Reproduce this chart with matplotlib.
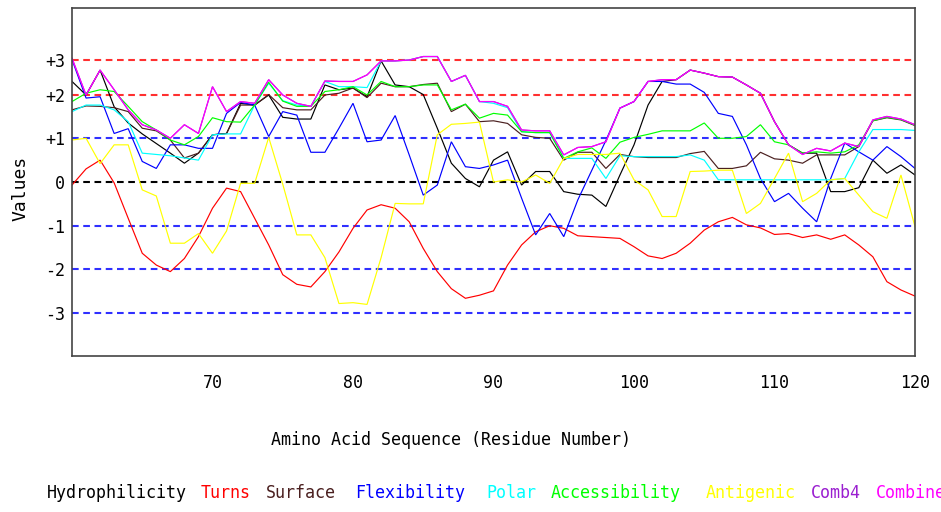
import matplotlib
matplotlib.use("Agg")
import matplotlib.pyplot as plt
import numpy as np

residues = list(range(60, 121))

hydrophilicity = [2.30, 1.99, 2.56, 1.72, 1.35, 1.10, 0.88, 0.66, 0.43, 0.66,
                  1.08, 1.11, 1.80, 1.76, 1.99, 1.48, 1.44, 1.44, 2.22, 2.11,
                  2.15, 1.95, 2.77, 2.22, 2.18, 2.00, 1.23, 0.43, 0.08, -0.11,
                  0.50, 0.69, -0.07, 0.24, 0.24, -0.22, -0.28, -0.30, -0.56, 0.16,
                  0.85, 1.76, 2.30, 2.34, 2.56, 2.49, 2.41, 2.40, 2.22, 2.03,
                  1.38, 0.85, 0.66, 0.66, -0.22, -0.22, -0.13, 0.50, 0.20, 0.39,
                  0.16]
turns = [-0.07, 0.30, 0.50, -0.02, -0.83, -1.63, -1.90, -2.05, -1.75, -1.25,
         -0.60, -0.14, -0.22, -0.83, -1.44, -2.12, -2.34, -2.40, -2.05, -1.60,
         -1.06, -0.64, -0.52, -0.60, -0.91, -1.52, -2.05, -2.44, -2.66, -2.59,
         -2.49, -1.90, -1.44, -1.14, -1.00, -1.06, -1.23, -1.25, -1.27, -1.29,
         -1.48, -1.69, -1.75, -1.63, -1.40, -1.10, -0.91, -0.81, -0.98, -1.05,
         -1.20, -1.18, -1.27, -1.21, -1.31, -1.21, -1.44, -1.71, -2.28, -2.47,
         -2.61]
surface = [1.65, 1.74, 1.73, 1.70, 1.61, 1.23, 1.17, 0.96, 0.55, 0.66,
           1.08, 1.11, 1.76, 1.76, 2.00, 1.70, 1.65, 1.65, 1.99, 2.03,
           2.15, 1.93, 2.26, 2.18, 2.18, 2.23, 2.26, 1.61, 1.78, 1.38,
           1.40, 1.34, 1.08, 1.02, 1.00, 0.50, 0.68, 0.68, 0.31, 0.63,
           0.58, 0.56, 0.56, 0.56, 0.65, 0.70, 0.31, 0.31, 0.37, 0.68,
           0.53, 0.50, 0.43, 0.62, 0.62, 0.62, 0.81, 1.40, 1.47, 1.42,
           1.29]
flexibility = [2.80, 1.92, 1.95, 1.11, 1.22, 0.47, 0.31, 0.85, 0.85, 0.77,
               0.77, 1.57, 1.82, 1.76, 1.04, 1.61, 1.53, 0.68, 0.68, 1.23,
               1.80, 0.92, 0.96, 1.52, 0.62, -0.30, -0.07, 0.92, 0.35, 0.31,
               0.39, 0.50, -0.37, -1.21, -0.72, -1.25, -0.41, 0.27, 0.95, 1.69,
               1.84, 2.30, 2.30, 2.24, 2.24, 2.05, 1.57, 1.50, 0.85, 0.08,
               -0.45, -0.26, -0.60, -0.91, 0.08, 0.89, 0.69, 0.50, 0.81, 0.58,
               0.31]
polar = [1.61, 1.76, 1.76, 1.65, 1.38, 0.66, 0.63, 0.60, 0.55, 0.50,
         1.08, 1.10, 1.10, 1.76, 2.26, 1.86, 1.76, 1.73, 2.30, 2.18,
         2.18, 2.16, 2.77, 2.77, 2.79, 2.87, 2.87, 2.30, 2.44, 1.84,
         1.80, 1.70, 1.15, 1.13, 1.13, 0.54, 0.54, 0.54, 0.08, 0.60,
         0.58, 0.58, 0.58, 0.58, 0.62, 0.50, 0.05, 0.05, 0.05, 0.05,
         0.05, 0.05, 0.05, 0.05, 0.05, 0.08, 0.69, 1.20, 1.20, 1.20,
         1.18]
accessibility = [1.84, 2.03, 2.11, 2.07, 1.73, 1.38, 1.19, 0.96, 0.85, 1.04,
                 1.47, 1.38, 1.37, 1.76, 2.28, 1.85, 1.73, 1.73, 2.07, 2.11,
                 2.18, 1.99, 2.30, 2.18, 2.18, 2.22, 2.22, 1.65, 1.78, 1.46,
                 1.57, 1.53, 1.15, 1.13, 1.13, 0.54, 0.69, 0.78, 0.54, 0.91,
                 1.02, 1.09, 1.17, 1.17, 1.17, 1.35, 1.00, 1.00, 1.04, 1.31,
                 0.92, 0.85, 0.66, 0.69, 0.66, 0.69, 0.85, 1.40, 1.48, 1.43,
                 1.30]
antigenic = [0.96, 1.00, 0.42, 0.85, 0.85, -0.18, -0.32, -1.40, -1.40, -1.18,
             -1.63, -1.12, -0.03, -0.03, 1.02, -0.05, -1.21, -1.21, -1.73, -2.78,
             -2.76, -2.80, -1.73, -0.49, -0.50, -0.50, 1.08, 1.32, 1.34, 1.37,
             0.00, 0.05, 0.00, 0.16, -0.03, 0.54, 0.63, 0.63, 0.63, 0.66,
             0.05, -0.18, -0.79, -0.79, 0.24, 0.25, 0.27, 0.27, -0.72, -0.49,
             0.08, 0.66, -0.45, -0.26, 0.05, 0.08, -0.30, -0.68, -0.83, 0.16,
             -1.02]
combined = [2.83, 1.99, 2.56, 2.11, 1.65, 1.31, 1.19, 1.00, 1.31, 1.11,
            2.18, 1.61, 1.84, 1.80, 2.34, 1.99, 1.80, 1.73, 2.31, 2.30,
            2.30, 2.45, 2.77, 2.77, 2.79, 2.87, 2.87, 2.30, 2.44, 1.84,
            1.84, 1.73, 1.19, 1.17, 1.17, 0.62, 0.79, 0.81, 0.92, 1.69,
            1.84, 2.30, 2.34, 2.34, 2.56, 2.49, 2.41, 2.40, 2.22, 2.03,
            1.38, 0.85, 0.63, 0.77, 0.71, 0.89, 0.81, 1.42, 1.50, 1.44,
            1.31]
comb4 = list(combined)

series_names = ["Hydrophilicity", "Turns", "Surface", "Flexibility", "Polar",
                "Accessibility", "Antigenic", "Comb4", "Combined"]
series_data = [hydrophilicity, turns, surface, flexibility, polar,
               accessibility, antigenic, comb4, combined]
series_colors = ["#000000", "#ff0000", "#4a1f1f", "#0000ff", "#00ffff",
                 "#00ff00", "#ffff00", "#9a1fd0", "#ff00ff"]

grid_values = [2.8, 2.0, 1.0, 0.0, -1.0, -2.0, -3.0]
grid_colors = ["#ff3030", "#ff3030", "#3030ff", "#000000", "#3030ff", "#3030ff", "#3030ff"]
ytick_labels = ["+3", "+2", "+1", "0", "-1", "-2", "-3"]
xticks = [70, 80, 90, 100, 110, 120]

W, H = 941, 512
fig = plt.figure(figsize=(W / 100, H / 100), dpi=100)
fig.patch.set_facecolor("white")
L, R, T, B = 72, 915, 8, 356
ax = fig.add_axes([L / W, 1 - B / H, (R - L) / W, (B - T) / H])
ax.set_xlim(60, 120)
ax.set_ylim(-3.98, 3.98)

for v, c in zip(grid_values, grid_colors):
    ax.axhline(v, color=c, lw=1.5, dashes=(3.2, 2.2), zorder=1)

for name, d, c in zip(series_names, series_data, series_colors):
    ax.plot(residues, d, color=c, lw=0.85, zorder=2, solid_joinstyle="miter")

font = "DejaVu Sans Mono"
ax.set_yticks(grid_values)
ax.set_yticklabels(ytick_labels, fontfamily=font, fontsize=12)
ax.set_xticks(xticks)
ax.set_xticklabels([str(x) for x in xticks], fontfamily=font, fontsize=12)
ax.tick_params(axis="both", length=0)
ax.tick_params(axis="x", pad=13)
ax.tick_params(axis="y", pad=5)
for s in ax.spines.values():
    s.set_color("#444444")
    s.set_linewidth(1.2)

def ftext(px, py, s, **kw):
    fig.text(px / W, 1 - py / H, s, fontfamily=font, **kw)

ftext(451, 440, "Amino Acid Sequence (Residue Number)", fontsize=12,
      ha="center", va="center")
ftext(20, 188, "Values", fontsize=13, rotation=90, ha="center", va="center")

legend_x = [47, 201, 266, 355, 486, 551, 706, 811, 876]
for name, c, x in zip(series_names, series_colors, legend_x):
    ftext(x, 493, name, fontsize=12, color=c, ha="left", va="center")

fig.savefig("out.png", dpi=100, facecolor="white")
